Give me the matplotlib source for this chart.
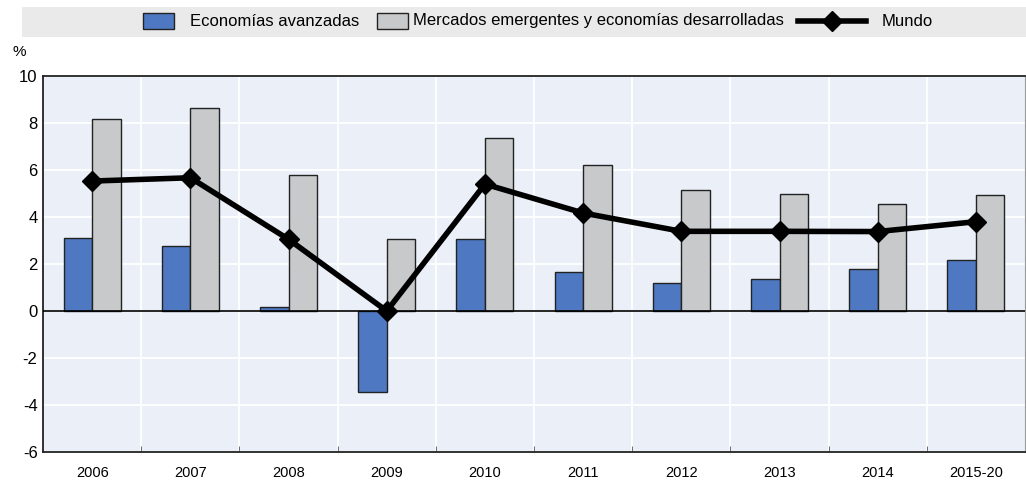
import numpy as np
import matplotlib.pyplot as plt
from matplotlib.patches import Rectangle
from matplotlib.lines import Line2D

plt.rcParams['font.family'] = ['Liberation Sans Narrow', 'Liberation Sans', 'DejaVu Sans']

years = ['2006', '2007', '2008', '2009', '2010', '2011', '2012', '2013', '2014', '2015-20']
avanzadas = [3.1, 2.75, 0.17, -3.45, 3.05, 1.67, 1.2, 1.36, 1.79, 2.15]
emergentes = [8.17, 8.65, 5.8, 3.06, 7.38, 6.23, 5.15, 4.98, 4.57, 4.94]
mundo = [5.53, 5.67, 3.05, 0.0, 5.4, 4.17, 3.39, 3.39, 3.38, 3.8]
labels = ['Economías avanzadas', 'Mercados emergentes y economías desarrolladas', 'Mundo']

blue = '#4E78C2'
grey = '#C8C9CB'
bg = '#EAEFF8'

W, H = 1026, 486
fig = plt.figure(figsize=(W / 100, H / 100), dpi=100)
ax = fig.add_axes([0.042, 0.07, 0.957, 0.7736])
ax.set_facecolor(bg)

x = np.arange(len(years))
w = 0.29
ax.bar(x - w / 2, avanzadas, w, color=blue, edgecolor='#222222', linewidth=1, zorder=3)
ax.bar(x + w / 2, emergentes, w, color=grey, edgecolor='#222222', linewidth=1, zorder=3)
ax.plot(x, mundo, color='black', linewidth=4, marker='D', markersize=10, zorder=5)
ax.axhline(0, color='black', linewidth=1.2, zorder=4)

ax.set_xlim(-0.5, len(years) - 0.5)
ax.set_ylim(-6, 10)
ax.set_yticks(range(-6, 11, 2))
ax.set_yticklabels([str(v) for v in range(-6, 11, 2)], fontsize=12)
ax.set_xticks(x)
ax.set_xticklabels(years, fontsize=10.5)
ax.set_xticks(x[:-1] + 0.5, minor=True)
ax.tick_params(axis='x', which='major', length=0, pad=10)
ax.tick_params(axis='x', which='minor', length=4, direction='in', color='#555555')
ax.tick_params(axis='y', length=0, pad=4)

ax.grid(axis='y', color='white', linewidth=1.3, zorder=0)
for b in x[:-1] + 0.5:
    ax.axvline(b, color='white', linewidth=1.3, zorder=0)
ax.set_axisbelow(True)

for s in ['left', 'top', 'bottom']:
    ax.spines[s].set_color('#222222')
    ax.spines[s].set_linewidth(1.3)
ax.spines['right'].set_color('#999999')

fig.text(0.012, 0.885, '%', fontsize=11)


# legend, laid out in pixels from the top-left corner
def fx(px):
    return px / W


def fy(py):
    return 1 - py / H


fig.patches.append(Rectangle((fx(22), fy(37)), fx(1004), 30 / H, transform=fig.transFigure,
                             facecolor='#EAEAEA', edgecolor='none', zorder=0))
for x0, col in [(143, blue), (377, grey)]:
    fig.patches.append(Rectangle((fx(x0), fy(29)), fx(31), 16 / H, transform=fig.transFigure,
                                 facecolor=col, edgecolor='#222222', linewidth=1, zorder=2))
fig.lines.append(Line2D([fx(798), fx(866)], [fy(21), fy(21)], transform=fig.transFigure,
                        color='black', linewidth=4, zorder=2))
fig.lines.append(Line2D([fx(832)], [fy(21)], transform=fig.transFigure, color='black',
                        marker='D', markersize=10, linestyle='none', zorder=3))
for x0, lab in zip([190, 413, 882], labels):
    fig.text(fx(x0), fy(21), lab, fontsize=12, va='center', ha='left')

fig.savefig('out.png', dpi=100)
